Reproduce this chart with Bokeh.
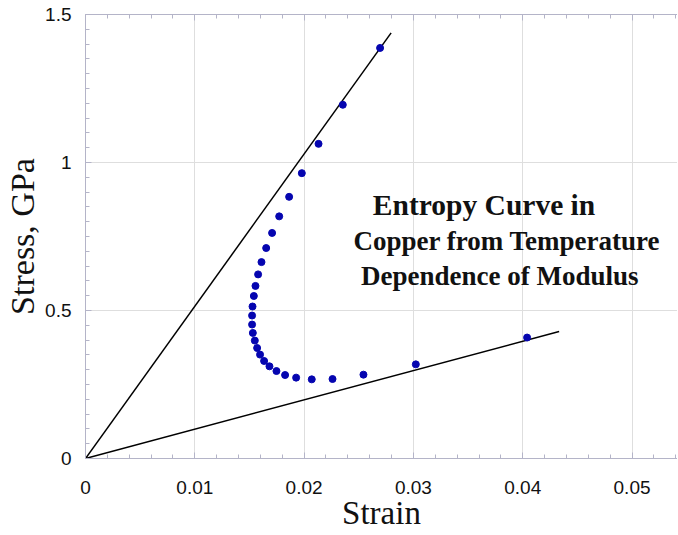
from bokeh.plotting import figure
from bokeh.models import Range1d, LinearAxis, Label, SingleIntervalTicker, CustomJSTickFormatter
from bokeh.embed import file_html
from bokeh.resources import INLINE

# data
strain = [0.02695, 0.02354, 0.02132, 0.01979, 0.01863, 0.01772, 0.01707, 0.01653,
          0.01610, 0.01579, 0.01555, 0.01540, 0.01528, 0.01524, 0.01524, 0.01531,
          0.01549, 0.01570, 0.01597, 0.01634, 0.01683, 0.01747, 0.01826, 0.01927,
          0.02070, 0.02260, 0.02543, 0.03022, 0.04040]
stress = [1.387, 1.195, 1.063, 0.964, 0.884, 0.818, 0.762, 0.711,
          0.6635, 0.622, 0.583, 0.549, 0.5135, 0.483, 0.4526, 0.4242,
          0.3984, 0.3734, 0.351, 0.3294, 0.3114, 0.2955, 0.282, 0.2732,
          0.2674, 0.2685, 0.2833, 0.318, 0.4086]

line1_x = [0.0, 0.02796]
line1_y = [0.0, 1.438]
line2_x = [0.0, 0.04333]
line2_y = [0.0, 0.429]

x_end = 0.05416
y_end = 1.5
x_title = "Strain"
y_title = "Stress, GPa"

title_lines = ["Entropy Curve in", "Copper from Temperature", "Dependence of Modulus"]
title_sizes = ["29.5px", "27px", "27px"]
title_x = [0.03646, 0.03855, 0.03790]
title_y = [0.8565, 0.7346, 0.616]

AX = "#b4b4c8"
GRID = "#dedede"

p = figure(width=677, height=534, output_backend="svg", toolbar_location=None,
           x_range=Range1d(0, x_end), y_range=Range1d(0, y_end),
           min_border_left=85, min_border_right=0, min_border_top=14, min_border_bottom=76,
           x_axis_label=x_title, y_axis_label=y_title)
p.outline_line_color = None
p.background_fill_color = "white"

p.xaxis.ticker = SingleIntervalTicker(interval=0.01, num_minor_ticks=5)
p.yaxis.ticker = SingleIntervalTicker(interval=0.5, num_minor_ticks=10)
p.xgrid.ticker = p.xaxis.ticker
p.ygrid.ticker = p.yaxis.ticker

for ax in (p.xaxis[0], p.yaxis[0]):
    ax.axis_line_color = AX
    ax.major_tick_line_color = AX
    ax.minor_tick_line_color = AX
    ax.major_tick_in = 6
    ax.major_tick_out = 0
    ax.minor_tick_in = 4
    ax.minor_tick_out = 0
    ax.major_label_text_font = "Liberation Sans"
    ax.major_label_text_font_size = "19px"
    ax.major_label_text_color = "#111111"
    ax.axis_label_text_font = "Liberation Serif"
    ax.axis_label_text_font_style = "normal"
    ax.axis_label_text_color = "#111111"

p.xaxis.major_label_standoff = 22
p.xaxis.major_label_text_line_height = 1.0
p.xaxis.axis_label_text_font_size = "33px"
p.xaxis.axis_label_text_line_height = 1.0
p.xaxis.axis_label_standoff = -2
p.yaxis.major_label_standoff = 14
p.yaxis.axis_label_text_font_size = "34px"
p.yaxis.axis_label_standoff = 1

top = LinearAxis(ticker=SingleIntervalTicker(interval=0.01, num_minor_ticks=5),
                 formatter=CustomJSTickFormatter(code="return '';"))
top.axis_line_color = AX
top.major_tick_line_color = AX
top.minor_tick_line_color = AX
top.major_tick_in = 6
top.major_tick_out = 0
top.minor_tick_in = 4
top.minor_tick_out = 0
top.major_label_standoff = 0
p.add_layout(top, "above")

p.xgrid.grid_line_color = GRID
p.ygrid.grid_line_color = GRID

p.line(line1_x, line1_y, line_color="black", line_width=1.5)
p.line(line2_x, line2_y, line_color="black", line_width=1.5)
p.scatter(strain, stress, size=7, fill_color="#0505b0", line_color="#0505b0")

for t, fs, xx, yy in zip(title_lines, title_sizes, title_x, title_y):
    p.add_layout(Label(x=xx, y=yy, text=t, text_align="center", text_baseline="middle",
                       text_font="Liberation Serif", text_font_style="bold",
                       text_font_size=fs, text_color="#111111"))

open("out.html", "w").write(file_html(p, INLINE))
